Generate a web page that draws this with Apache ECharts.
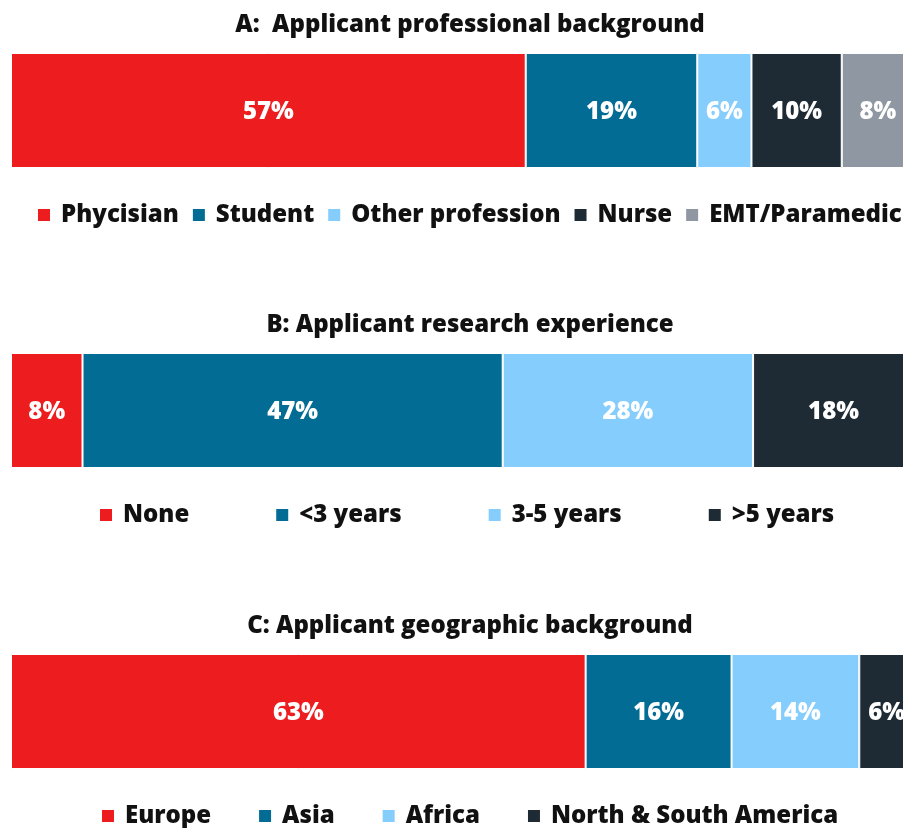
<!DOCTYPE html>
<html>
<head>
<meta charset="utf-8">
<script src="https://cdn.jsdelivr.net/npm/echarts@6/dist/echarts.min.js"></script>
<style>
  html, body { margin: 0; padding: 0; background: #fff; overflow: hidden; }
  /* the bars run past the right edge of the window, like the original */
  #chart { width: 920px; height: 828px; }
</style>
</head>
<body>
<div id="chart"></div>
<script>
// panel titles
const panelTitles = [
    'A:  Applicant professional background',
    'B: Applicant research experience',
    'C: Applicant geographic background'
];

// A: professional background
const profNames = ['Phycisian', 'Student', 'Other profession', 'Nurse', 'EMT/Paramedic'];
const profValues = [57, 19, 6, 10, 8];

// B: research experience
const researchNames = ['None', '<3 years', '3-5 years', '>5 years'];
const researchValues = [8, 47, 28, 18];

// C: geographic background
const geoNames = ['Europe', 'Asia', 'Africa', 'North & South America'];
const geoValues = [63, 16, 14, 6];

const palette = ['#ED1C1F', '#036C95', '#84CDFC', '#1F2B34', '#8F98A2'];
const FONT = '"Open Sans", Lato, sans-serif';

const panels = [
    { names: profNames, values: profValues, top: 53, legendLeft: 36, gap: 12 },
    { names: researchNames, values: researchValues, top: 353, legendLeft: 98, gap: 85 },
    { names: geoNames, values: geoValues, top: 654, legendLeft: 100, gap: 46 }
];

const chart = echarts.init(document.getElementById('chart'), null, { renderer: 'canvas' });

const title = [], grid = [], xAxis = [], yAxis = [], legend = [], series = [];

panels.forEach((p, i) => {
    const total = p.values.reduce((a, b) => a + b, 0);
    title.push({
        text: panelTitles[i],
        left: 465,
        textAlign: 'center',
        top: p.top - 45,
        textStyle: { fontFamily: FONT, fontWeight: 800, fontSize: 24, color: '#111' }
    });
    grid.push({ left: 11, width: 903, top: p.top, height: 115 });
    xAxis.push({ type: 'value', gridIndex: i, min: 0, max: total, show: false });
    yAxis.push({ type: 'category', gridIndex: i, data: ['x'], show: false });
    legend.push({
        data: p.names,
        left: p.legendLeft,
        top: p.top + 150,
        padding: 0,
        itemWidth: 14,
        itemHeight: 14,
        itemGap: p.gap,
        icon: 'rect',
        textStyle: { fontFamily: FONT, fontWeight: 800, fontSize: 24, color: '#111', padding: [0, 0, 0, 5] }
    });
    p.names.forEach((name, j) => {
        series.push({
            name: name,
            type: 'bar',
            stack: 'panel' + i,
            xAxisIndex: i,
            yAxisIndex: i,
            barWidth: 115,
            data: [p.values[j]],
            itemStyle: { color: palette[j], borderColor: '#fff', borderWidth: 1 },
            label: {
                show: true,
                position: 'inside',
                offset: [0, 2],
                formatter: '{c}%',
                color: '#fff',
                fontFamily: FONT,
                fontWeight: 800,
                fontSize: 24
            },
            emphasis: { disabled: true }
        });
    });
});

chart.setOption({
    backgroundColor: '#fff',
    animation: false,
    title: title,
    grid: grid,
    xAxis: xAxis,
    yAxis: yAxis,
    legend: legend,
    series: series
});
</script>
</body>
</html>
